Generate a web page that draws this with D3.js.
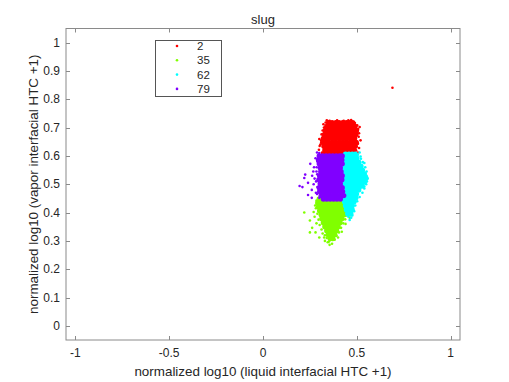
<!DOCTYPE html>
<html><head><meta charset="utf-8">
<script src="https://cdn.jsdelivr.net/npm/d3@7/dist/d3.min.js"></script>
<style>body{margin:0;background:#fff}svg{display:block}text{font-family:"Liberation Sans",Arial,sans-serif;fill:#262626}</style>
</head><body><svg id="c" width="509" height="382"></svg>
<script>
const title = "slug";
const xLabel = "normalized log10 (liquid interfacial HTC +1)";
const yLabel = "normalized log10 (vapor interfacial HTC +1)";
const xTicks = [-1, -0.5, 0, 0.5, 1];
const yTicks = [0, 0.1, 0.2, 0.3, 0.4, 0.5, 0.6, 0.7, 0.8, 0.9, 1];
const seriesNames = ["2", "35", "62", "79"];
const seriesColors = ["#ff0000", "#80ff00", "#00ffff", "#8000ff"];

// series "2" dense core and sparse points
const red = [
[0.350,0.717],[0.368,0.717],[0.388,0.717],[0.405,0.717],[0.425,0.717],[0.444,0.717],[0.462,0.717],[0.478,0.717],
[0.340,0.704],[0.358,0.704],[0.378,0.704],[0.397,0.704],[0.416,0.704],[0.436,0.704],[0.455,0.704],[0.473,0.704],[0.490,0.704],
[0.333,0.690],[0.350,0.690],[0.370,0.690],[0.390,0.690],[0.410,0.690],[0.430,0.690],[0.448,0.690],[0.467,0.690],[0.485,0.690],[0.498,0.690],
[0.328,0.676],[0.342,0.676],[0.362,0.676],[0.381,0.676],[0.400,0.676],[0.420,0.676],[0.440,0.676],[0.458,0.676],[0.477,0.676],[0.495,0.676],
[0.322,0.662],[0.338,0.662],[0.355,0.662],[0.374,0.662],[0.393,0.662],[0.412,0.662],[0.432,0.662],[0.450,0.662],[0.469,0.662],[0.488,0.662],
[0.318,0.648],[0.334,0.648],[0.348,0.648],[0.367,0.648],[0.386,0.648],[0.405,0.648],[0.424,0.648],[0.443,0.648],[0.462,0.648],[0.480,0.648],[0.497,0.648],
[0.325,0.634],[0.342,0.634],[0.360,0.634],[0.379,0.634],[0.398,0.634],[0.417,0.634],[0.436,0.634],[0.455,0.634],[0.474,0.634],[0.492,0.634],
[0.330,0.620],[0.350,0.620],[0.370,0.620],[0.390,0.620],[0.408,0.620],[0.428,0.620],[0.447,0.620],[0.466,0.620],[0.485,0.620],
[0.322,0.606],[0.340,0.606],[0.360,0.606],[0.380,0.606],[0.400,0.606],[0.420,0.606]
];
const redOut = [[0.300,0.660],[0.306,0.640],[0.298,0.622],[0.312,0.676],[0.515,0.702],[0.512,0.680],[0.520,0.655],[0.512,0.628],[0.505,0.612],[0.340,0.726],[0.470,0.727],[0.455,0.612],[0.690,0.841],
[0.355,0.724],[0.395,0.726],[0.430,0.724],[0.455,0.726],[0.490,0.716],[0.502,0.708],[0.507,0.695],[0.510,0.668],[0.506,0.643],[0.318,0.690],[0.310,0.655],[0.302,0.635],[0.325,0.700],[0.496,0.620],[0.482,0.608],[0.315,0.612],[0.322,0.712],[0.334,0.718]];

// series "35"
const green = [
[0.300,0.448],[0.318,0.448],[0.336,0.448],[0.354,0.448],[0.372,0.448],[0.390,0.448],[0.408,0.448],[0.426,0.448],[0.444,0.448],[0.460,0.448],
[0.292,0.434],[0.310,0.434],[0.328,0.434],[0.346,0.434],[0.364,0.434],[0.382,0.434],[0.400,0.434],[0.418,0.434],[0.436,0.434],[0.454,0.434],
[0.296,0.420],[0.314,0.420],[0.332,0.420],[0.350,0.420],[0.368,0.420],[0.386,0.420],[0.404,0.420],[0.422,0.420],[0.440,0.420],[0.452,0.420],
[0.302,0.406],[0.320,0.406],[0.338,0.406],[0.356,0.406],[0.374,0.406],[0.392,0.406],[0.410,0.406],[0.428,0.406],[0.442,0.406],
[0.310,0.392],[0.328,0.392],[0.346,0.392],[0.364,0.392],[0.382,0.392],[0.400,0.392],[0.418,0.392],[0.432,0.392],
[0.314,0.378],[0.332,0.378],[0.350,0.378],[0.368,0.378],[0.386,0.378],[0.404,0.378],[0.420,0.378],
[0.322,0.364],[0.340,0.364],[0.358,0.364],[0.376,0.364],[0.394,0.364],[0.410,0.364],
[0.330,0.350],[0.348,0.350],[0.366,0.350],[0.384,0.350],[0.400,0.350],
[0.340,0.336],[0.358,0.336],[0.376,0.336],[0.392,0.336],
[0.348,0.322],[0.366,0.322],[0.382,0.322],
[0.358,0.308],[0.372,0.308]
];
const greenOut = [[0.270,0.402],[0.250,0.372],[0.262,0.346],[0.280,0.330],[0.300,0.312],[0.330,0.300],[0.368,0.290],[0.400,0.312],[0.420,0.332],[0.462,0.382],[0.470,0.410],[0.440,0.360],[0.285,0.362],[0.278,0.425],[0.475,0.440],[0.345,0.295],
[0.285,0.442],[0.282,0.415],[0.290,0.396],[0.296,0.375],[0.302,0.356],[0.312,0.340],[0.318,0.326],[0.326,0.312],[0.340,0.310],[0.352,0.298],
[0.466,0.430],[0.456,0.404],[0.446,0.390],[0.438,0.376],[0.428,0.362],[0.416,0.346],[0.405,0.330],[0.392,0.318],[0.382,0.304],
[0.220,0.400],[0.250,0.330],[0.275,0.385],[0.330,0.320],[0.355,0.286],[0.410,0.360],[0.470,0.412]];

// series "62"
const cyan = [
[0.440,0.606],[0.458,0.606],[0.476,0.606],[0.492,0.606],
[0.430,0.592],[0.448,0.592],[0.466,0.592],[0.484,0.592],[0.500,0.592],
[0.425,0.578],[0.442,0.578],[0.460,0.578],[0.478,0.578],[0.496,0.578],[0.510,0.578],
[0.425,0.564],[0.440,0.564],[0.458,0.564],[0.476,0.564],[0.494,0.564],[0.512,0.564],[0.522,0.564],
[0.425,0.550],[0.445,0.550],[0.464,0.550],[0.482,0.550],[0.500,0.550],[0.518,0.550],[0.530,0.550],
[0.425,0.536],[0.440,0.536],[0.458,0.536],[0.476,0.536],[0.494,0.536],[0.512,0.536],[0.530,0.536],[0.540,0.536],
[0.425,0.522],[0.445,0.522],[0.464,0.522],[0.482,0.522],[0.500,0.522],[0.518,0.522],[0.535,0.522],[0.548,0.522],
[0.425,0.508],[0.440,0.508],[0.458,0.508],[0.476,0.508],[0.494,0.508],[0.512,0.508],[0.530,0.508],[0.540,0.508],
[0.425,0.494],[0.445,0.494],[0.464,0.494],[0.482,0.494],[0.500,0.494],[0.518,0.494],[0.528,0.494],
[0.425,0.480],[0.440,0.480],[0.458,0.480],[0.476,0.480],[0.494,0.480],[0.510,0.480],
[0.425,0.466],[0.445,0.466],[0.464,0.466],[0.482,0.466],[0.498,0.466],
[0.430,0.452],[0.448,0.452],[0.466,0.452],[0.484,0.452],[0.495,0.452],
[0.435,0.438],[0.452,0.438],[0.470,0.438],[0.485,0.438],
[0.440,0.424],[0.458,0.424],[0.475,0.424],
[0.445,0.410],[0.462,0.410],[0.475,0.410],
[0.452,0.396],[0.468,0.396]
];
const cyanOut = [[0.558,0.520],[0.552,0.545],[0.550,0.500],[0.540,0.575],[0.520,0.598],[0.470,0.382],[0.540,0.485],[0.515,0.612],
[0.545,0.560],[0.552,0.530],[0.554,0.510],[0.540,0.492],[0.530,0.470],[0.515,0.455],[0.502,0.440],[0.492,0.425],[0.486,0.405],[0.476,0.390],[0.522,0.590],[0.506,0.604],[0.455,0.385],[0.462,0.374],[0.532,0.578]];

// series "79"
const purple = [
[0.300,0.600],[0.318,0.600],[0.336,0.600],[0.354,0.600],[0.372,0.600],[0.390,0.600],[0.408,0.600],[0.422,0.600],
[0.296,0.586],[0.312,0.586],[0.330,0.586],[0.348,0.586],[0.366,0.586],[0.384,0.586],[0.402,0.586],[0.420,0.586],
[0.300,0.572],[0.318,0.572],[0.336,0.572],[0.354,0.572],[0.372,0.572],[0.390,0.572],[0.408,0.572],[0.422,0.572],
[0.305,0.558],[0.322,0.558],[0.340,0.558],[0.358,0.558],[0.376,0.558],[0.394,0.558],[0.412,0.558],
[0.308,0.544],[0.326,0.544],[0.344,0.544],[0.362,0.544],[0.380,0.544],[0.398,0.544],[0.416,0.544],
[0.302,0.530],[0.320,0.530],[0.338,0.530],[0.356,0.530],[0.374,0.530],[0.392,0.530],[0.410,0.530],[0.422,0.530],
[0.298,0.516],[0.314,0.516],[0.332,0.516],[0.350,0.516],[0.368,0.516],[0.386,0.516],[0.404,0.516],[0.420,0.516],
[0.305,0.502],[0.322,0.502],[0.340,0.502],[0.358,0.502],[0.376,0.502],[0.394,0.502],[0.412,0.502],
[0.300,0.488],[0.318,0.488],[0.336,0.488],[0.354,0.488],[0.372,0.488],[0.390,0.488],[0.408,0.488],[0.422,0.488],
[0.302,0.474],[0.320,0.474],[0.338,0.474],[0.356,0.474],[0.374,0.474],[0.392,0.474],[0.410,0.474],[0.424,0.474],
[0.310,0.460],[0.328,0.460],[0.346,0.460],[0.364,0.460],[0.382,0.460],[0.400,0.460],[0.418,0.460],[0.430,0.460],
[0.322,0.448],[0.340,0.448],[0.358,0.448],[0.376,0.448],[0.394,0.448],[0.412,0.448]
];
const purpleOut = [[0.280,0.592],[0.272,0.560],[0.262,0.530],[0.270,0.500],[0.195,0.494],[0.220,0.522],[0.240,0.462],[0.282,0.470],[0.252,0.572],[0.288,0.612],[0.285,0.545],[0.240,0.505],
[0.290,0.580],[0.286,0.560],[0.289,0.535],[0.283,0.510],[0.290,0.490],[0.288,0.466],[0.300,0.452],[0.275,0.520],[0.268,0.545],[0.260,0.480],[0.225,0.534],[0.210,0.490],[0.260,0.452],[0.300,0.610]];

const series = [
  {name: seriesNames[0], color: seriesColors[0], core: red, out: redOut},
  {name: seriesNames[1], color: seriesColors[1], core: green, out: greenOut},
  {name: seriesNames[2], color: seriesColors[2], core: cyan, out: cyanOut},
  {name: seriesNames[3], color: seriesColors[3], core: purple, out: purpleOut}
];

const svg = d3.select("#c");
const L = 66, R = 460, T = 28.5, B = 340;
const x = d3.scaleLinear().domain([-1.05, 1.05]).range([L, R]);
const y = d3.scaleLinear().domain([-0.05, 1.05]).range([B, T]);
const axisCol = "#8a8a8a";
const tl = 4;

svg.append("rect").attr("x", L).attr("y", T).attr("width", R - L).attr("height", B - T)
  .attr("fill", "#fff").attr("stroke", axisCol).attr("stroke-width", 1);

const g = svg.append("g");
xTicks.forEach(t => {
  const px = Math.round(x(t)) + 0.5;
  g.append("line").attr("x1", px).attr("x2", px).attr("y1", B).attr("y2", B - tl).attr("stroke", axisCol);
  g.append("line").attr("x1", px).attr("x2", px).attr("y1", T).attr("y2", T + tl).attr("stroke", axisCol);
  g.append("text").attr("x", x(t)).attr("y", B + 17).attr("text-anchor", "middle")
    .attr("font-size", 12).text(t);
});
yTicks.forEach(t => {
  const py = Math.round(y(t)) + 0.5;
  g.append("line").attr("x1", L).attr("x2", L + tl).attr("y1", py).attr("y2", py).attr("stroke", axisCol);
  g.append("line").attr("x1", R).attr("x2", R - tl).attr("y1", py).attr("y2", py).attr("stroke", axisCol);
  g.append("text").attr("x", L - 6).attr("y", y(t) + 4).attr("text-anchor", "end")
    .attr("font-size", 12).text(t);
});

const pts = svg.append("g");
series.forEach(s => {
  pts.append("g").selectAll("circle").data(s.core).join("circle")
    .attr("cx", d => x(d[0])).attr("cy", d => y(d[1])).attr("r", 2.7).attr("fill", s.color);
  pts.append("g").selectAll("circle").data(s.out).join("circle")
    .attr("cx", d => x(d[0])).attr("cy", d => y(d[1])).attr("r", 1.3).attr("fill", s.color);
});

svg.append("text").attr("x", (L + R) / 2).attr("y", 24).attr("text-anchor", "middle")
  .attr("font-size", 13).text(title);
svg.append("text").attr("x", (L + R) / 2).attr("y", 376).attr("text-anchor", "middle")
  .attr("font-size", 13.4).text(xLabel);
svg.append("text").attr("transform", `translate(38,${(T + B) / 2}) rotate(-90)`).attr("text-anchor", "middle")
  .attr("font-size", 13.4).text(yLabel);

const lg = svg.append("g");
lg.append("rect").attr("x", 155.5).attr("y", 40.5).attr("width", 66).attr("height", 56)
  .attr("fill", "#fff").attr("stroke", "#555").attr("stroke-width", 1);
series.forEach((s, i) => {
  const cy = 46 + i * 14.3;
  lg.append("circle").attr("cx", 177).attr("cy", cy).attr("r", 1.3).attr("fill", s.color);
  lg.append("text").attr("x", 197).attr("y", cy + 4).attr("font-size", 11.5).text(s.name);
});
</script></body></html>
